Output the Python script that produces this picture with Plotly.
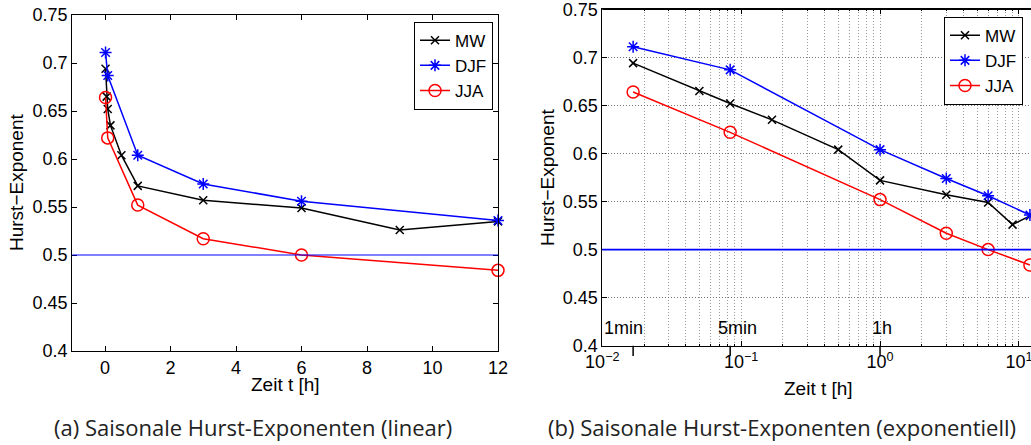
import math
import plotly.graph_objects as go

# ---------------- data ----------------
MW_T = [0.01667, 0.05, 0.08333, 0.16667, 0.5, 1, 3, 6, 9, 12]          # hours
MW_H = [0.694, 0.665, 0.652, 0.635, 0.604, 0.572, 0.557, 0.549, 0.526, 0.535]
SEASON_T = [0.01667, 0.08333, 1, 3, 6, 12]                              # hours
DJF_H = [0.711, 0.687, 0.604, 0.574, 0.556, 0.536]
JJA_H = [0.664, 0.622, 0.552, 0.517, 0.500, 0.484]
REF_H = 0.5

SERIES_NAMES = ["MW", "DJF", "JJA"]
LIN_XTICKS = [0, 2, 4, 6, 8, 10, 12]
Y_TICKS = [0.4, 0.45, 0.5, 0.55, 0.6, 0.65, 0.7, 0.75]
LOG_XTICKS = [0.01, 0.1, 1, 10]
LOG_XTICKTEXT = ["10<sup>\u22122</sup>", "10<sup>\u22121</sup>", "10<sup>0</sup>", "10<sup>1</sup>"]
MARK_T = [0.01667, 0.08333, 1]
MARK_TEXT = ["1min", "5min", "1h"]
MARK_SHIFT = [-10, 7, 2]

W, H = 1031, 445
FONT = "Liberation Sans, Arial, sans-serif"
GRID = "#9a9a9a"
GDASH = "1px,2px"

styles = {
    "MW": dict(color="black", symbol="x-thin-open", size=8),
    "DJF": dict(color="#0000ff", symbol="asterisk-open", size=10),
    "JJA": dict(color="#ff0000", symbol="circle-open", size=12),
}
data = {"MW": (MW_T, MW_H), "DJF": (SEASON_T, DJF_H), "JJA": (SEASON_T, JJA_H)}

fig = go.Figure()
for xa, ya, lg in [("x", "y", "legend"), ("x2", "y2", "legend2")]:
    for name in SERIES_NAMES:
        t, h = data[name]
        st = styles[name]
        fig.add_trace(go.Scatter(
            x=t, y=h, name=name, mode="lines+markers", xaxis=xa, yaxis=ya, legend=lg,
            line=dict(color=st["color"], width=1.5),
            marker=dict(symbol=st["symbol"], size=st["size"], color=st["color"],
                        line=dict(color=st["color"], width=1.5)),
            cliponaxis=False if xa == "x" else True,
        ))

def px_x(p):
    return p / W

def px_y(p):
    return 1 - p / H

axis_common = dict(showline=True, linecolor="black", linewidth=1, ticks="inside",
                   ticklen=5, tickcolor="black", zeroline=False, automargin=False,
                   ticklabeloverflow="allow",
                   tickfont=dict(family=FONT, size=18, color="black"))

fig.update_layout(
    width=W, height=H, margin=dict(l=0, r=0, t=0, b=0, autoexpand=False),
    paper_bgcolor="white", plot_bgcolor="white",
    font=dict(family=FONT, color="black"),
    xaxis=dict(domain=[px_x(72.25), px_x(498)], range=[-1, 12], tickvals=LIN_XTICKS,
               mirror="allticks", showgrid=False, anchor="y", **axis_common),
    yaxis=dict(domain=[px_y(351), px_y(15)], range=[0.4, 0.75], tickvals=Y_TICKS,
               mirror="allticks", showgrid=False, anchor="x", **axis_common),
    xaxis2=dict(domain=[px_x(602.3), 1], type="log", range=[-2, 1.087],
                tickvals=LOG_XTICKS, ticktext=LOG_XTICKTEXT, mirror="allticks",
                showgrid=True, gridcolor=GRID, griddash=GDASH, gridwidth=1,
                minor=dict(tickvals=[m * 10 ** e for e in (-2, -1, 0, 1) for m in range(2, 10)],
                           ticks="inside", ticklen=2, tickcolor="black",
                           showgrid=True, gridcolor=GRID, griddash=GDASH, gridwidth=1),
                anchor="y2", **axis_common),
    yaxis2=dict(domain=[px_y(345.7), px_y(9.3)], range=[0.4, 0.75], tickvals=Y_TICKS,
                mirror=False, showgrid=True, gridcolor="#777", griddash=GDASH, gridwidth=1,
                anchor="x2", **axis_common),
    legend=dict(x=px_x(414), y=px_y(21.7), xanchor="left", yanchor="top",
                bgcolor="white", bordercolor="black", borderwidth=1,
                font=dict(family=FONT, size=17), itemwidth=30, tracegroupgap=0),
    legend2=dict(x=px_x(944), y=px_y(16.7), xanchor="left", yanchor="top",
                 bgcolor="white", bordercolor="black", borderwidth=1,
                 font=dict(family=FONT, size=17), itemwidth=30, tracegroupgap=0),
)

# top frame of the right panel (unclipped)
fig.add_shape(type="line", xref="paper", yref="paper", x0=px_x(602.3), x1=1,
              y0=px_y(9.5), y1=px_y(9.5), line=dict(color="black", width=1), layer="above")

# reference line H = 0.5
for xr, yr, lw in [("x domain", "y", 1.2), ("x2 domain", "y2", 1.6)]:
    fig.add_shape(type="line", xref=xr, yref=yr, x0=0, x1=1, y0=REF_H, y1=REF_H,
                  line=dict(color="#0000ff", width=lw), layer="above")

# time markers below the log axis
for t, txt, sh in zip(MARK_T, MARK_TEXT, MARK_SHIFT):
    fig.add_shape(type="line", xref="x2", yref="paper", x0=t, x1=t,
                  y0=px_y(345.7), y1=px_y(356), line=dict(color="black", width=1.5))
    fig.add_annotation(x=math.log10(t), y=0.418, xref="x2", yref="y2", text=txt,
                       showarrow=False, xshift=sh,
                       font=dict(family=FONT, size=18, color="black"))

# axis titles
for x, y, txt, ang in [
    (285, 384, "Zeit t [h]", 0), (818, 388, "Zeit t [h]", 0),
    (17, 183, "Hurst\u2212Exponent", -90), (547, 178, "Hurst\u2212Exponent", -90),
]:
    fig.add_annotation(x=px_x(x), y=px_y(y), xref="paper", yref="paper", text=txt,
                       showarrow=False, textangle=ang, xanchor="center", yanchor="middle",
                       font=dict(family=FONT, size=19, color="black"))

# captions
for x, txt in [(253, "(a) Saisonale Hurst-Exponenten (linear)"),
               (782, "(b) Saisonale Hurst-Exponenten (exponentiell)")]:
    fig.add_annotation(x=px_x(x), y=px_y(427), xref="paper", yref="paper", text=txt,
                       showarrow=False, xanchor="center", yanchor="middle",
                       font=dict(family="Open Sans, sans-serif", size=22, color="#222"))

fig.write_html("out.html")
